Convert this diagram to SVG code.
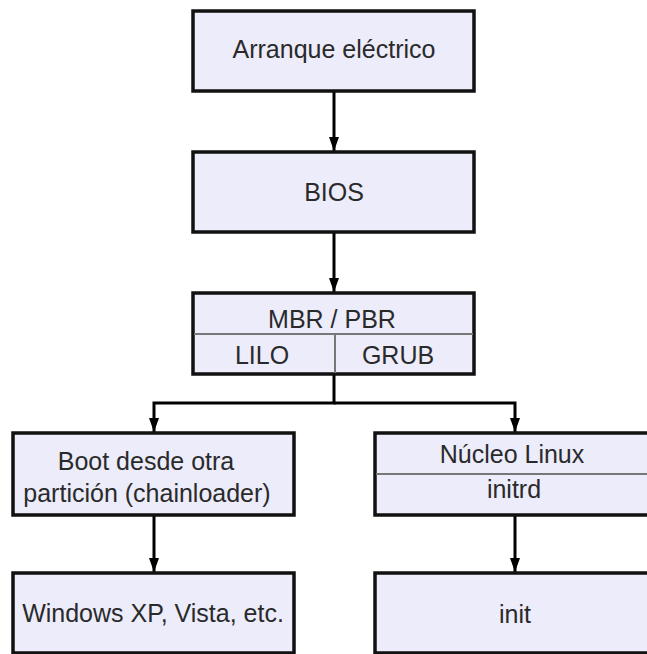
<svg xmlns="http://www.w3.org/2000/svg" width="647" height="654" viewBox="0 0 647 654">
<defs>
<marker id="arr" markerWidth="14" markerHeight="10" refX="14" refY="5" orient="auto" markerUnits="userSpaceOnUse" viewBox="0 0 14 10">
<path d="M0,0 L14,5 L0,10 Z" fill="#000"/>
</marker>
</defs>
<style>
.box{fill:#ececfb;stroke:#111;stroke-width:3.5}
.div{stroke:#777;stroke-width:2;fill:none}
.t{font-family:"Liberation Sans",Arial,sans-serif;font-size:25px;fill:#2a2a2a;text-anchor:middle}
.c{stroke:#000;stroke-width:3;fill:none}
</style>
<rect width="647" height="654" fill="#fff"/>
<g id="connectors">
<line class="c" x1="334" y1="91" x2="334" y2="151" marker-end="url(#arr)"/>
<line class="c" x1="334" y1="232" x2="334" y2="292" marker-end="url(#arr)"/>
<polyline class="c" points="334,374 334,403 154,403 154,432" marker-end="url(#arr)"/>
<polyline class="c" points="334,403 515,403 515,432" marker-end="url(#arr)"/>
<line class="c" x1="154" y1="515" x2="154" y2="572" marker-end="url(#arr)"/>
<line class="c" x1="515" y1="515" x2="515" y2="572" marker-end="url(#arr)"/>
</g>
<g id="arranque">
<rect class="box" x="193" y="11" width="281" height="80"/>
<text class="t" x="334" y="58">Arranque eléctrico</text>
</g>
<g id="bios">
<rect class="box" x="193" y="152" width="281" height="80"/>
<text class="t" x="334" y="201">BIOS</text>
</g>
<g id="mbr">
<rect class="box" x="193" y="293" width="281" height="81"/>
<line class="div" x1="194" y1="334" x2="473" y2="334"/>
<line class="div" x1="335" y1="334" x2="335" y2="373"/>
<text class="t" x="332" y="328">MBR / PBR</text>
<text class="t" x="262" y="364">LILO</text>
<text class="t" x="398" y="364">GRUB</text>
</g>
<g id="chainloader">
<rect class="box" x="13" y="433" width="281" height="82"/>
<text class="t" x="146" y="470">Boot desde otra</text>
<text class="t" x="147" y="502">partición (chainloader)</text>
</g>
<g id="nucleo">
<rect class="box" x="375" y="433" width="285" height="82"/>
<line class="div" x1="376" y1="474" x2="660" y2="474"/>
<text class="t" x="512" y="463">Núcleo Linux</text>
<text class="t" x="514" y="498">initrd</text>
</g>
<g id="windows">
<rect class="box" x="13" y="573" width="281" height="80"/>
<text class="t" x="153" y="622">Windows XP, Vista, etc.</text>
</g>
<g id="init">
<rect class="box" x="375" y="573" width="285" height="80"/>
<text class="t" x="515" y="623">init</text>
</g>
</svg>
